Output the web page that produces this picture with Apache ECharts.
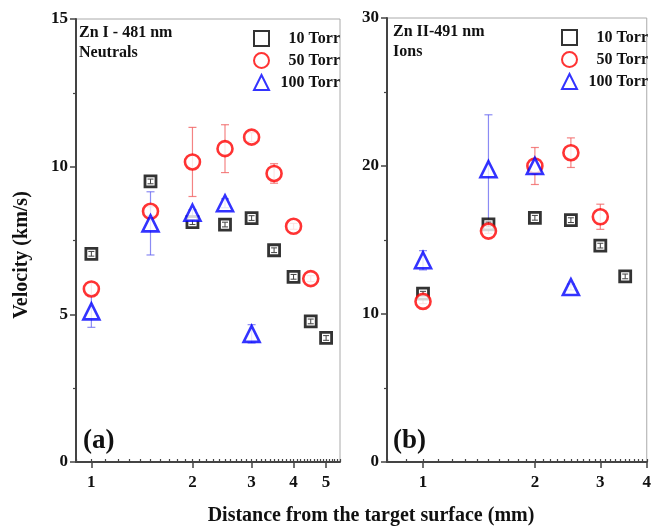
<!DOCTYPE html>
<html>
<head>
<meta charset="utf-8">
<script src="https://cdn.jsdelivr.net/npm/echarts@6/dist/echarts.min.js"></script>
<style>html,body{margin:0;padding:0;background:#fff;}#c{width:654px;height:528px;}</style>
</head>
<body>
<div id="c"></div>
<script>
// ---- Data: panel (a) Zn I - 481 nm, neutrals ----
const distA10 = [1, 1.5, 2, 2.5, 3, 3.5, 4, 4.5, 5];
const velA10  = [7.05, 9.5, 8.12, 8.04, 8.26, 7.17, 6.27, 4.76, 4.2];
const errA10  = [0.08, 0.08, 0.08, 0.08, 0.08, 0.08, 0.08, 0.08, 0.08];
const distA50 = [1, 1.5, 2, 2.5, 3, 3.5, 4, 4.5];
const velA50  = [5.86, 8.49, 10.16, 10.61, 11.0, 9.77, 7.98, 6.21];
const errA50  = [0.2, 0.15, 1.17, 0.81, 0.15, 0.33, 0.1, 0.1];
const distA100 = [1, 1.5, 2, 2.5, 3];
const velA100  = [5.1, 8.08, 8.44, 8.76, 4.34];
const errA100  = [0.54, 1.07, 0.1, 0.15, 0.31];
// ---- Data: panel (b) Zn II-491 nm, ions ----
const distB10 = [1, 1.5, 2, 2.5, 3, 3.5];
const velB10  = [11.37, 16.05, 16.5, 16.34, 14.62, 12.54];
const errB10  = [0.16, 0.16, 0.16, 0.16, 0.16, 0.16];
const distB50 = [1, 1.5, 2, 2.5, 3];
const velB50  = [10.85, 15.6, 20.0, 20.9, 16.57];
const errB50  = [0.15, 0.15, 1.25, 1.0, 0.85];
const distB100 = [1, 1.5, 2, 2.5];
const velB100  = [13.63, 19.78, 20.0, 11.82];
const errB100  = [0.65, 3.68, 0.4, 0.2];
// ---- Ticks ----
const ticksA = [1, 2, 3, 4, 5];
const ticksB = [1, 2, 3, 4];
const yTicksA = [0, 5, 10, 15];
const yTicksB = [0, 10, 20, 30];
const seriesNames = ['10 Torr', '50 Torr', '100 Torr'];

const FONT = 'Liberation Serif';
function minorTicks(lo, hi) {
  const out = [];
  for (let i = Math.round(lo * 10); i <= Math.round(hi * 10); i++) out.push(i / 10);
  return out;
}
function pts(xs, ys) { return xs.map((x, i) => [x, ys[i]]); }
function errs(xs, ys, es) { return xs.map((x, i) => [x, ys[i] - es[i], ys[i] + es[i]]); }
function errRender(color, cap, width) {
  return function (params, api) {
    const x = api.value(0);
    const p1 = api.coord([x, api.value(1)]);
    const p2 = api.coord([x, api.value(2)]);
    const st = { stroke: color, lineWidth: width };
    return { type: 'group', children: [
      { type: 'line', shape: { x1: p1[0], y1: p1[1], x2: p2[0], y2: p2[1] }, style: st },
      { type: 'line', shape: { x1: p1[0] - cap, y1: p1[1], x2: p1[0] + cap, y2: p1[1] }, style: st },
      { type: 'line', shape: { x1: p2[0] - cap, y1: p2[1], x2: p2[0] + cap, y2: p2[1] }, style: st }
    ]};
  };
}
const axisCol = '#444';
function xMajor(grid, min, max, ticks) {
  return {
    type: 'log', logBase: 10, gridIndex: grid, min: min, max: max,
    axisLine: { show: true, onZero: false, lineStyle: { color: axisCol, width: 2 } },
    axisTick: { show: true, customValues: ticks, length: 6, lineStyle: { color: axisCol, width: 1.5 } },
    axisLabel: { customValues: ticks, margin: 12, fontFamily: FONT, fontWeight: 'bold', fontSize: 17, color: '#111' },
    splitLine: { show: false }, minorTick: { show: false }
  };
}
function xMinor(grid, min, max) {
  return {
    type: 'log', logBase: 10, gridIndex: grid, min: min, max: max,
    axisLine: { show: false },
    axisTick: { show: true, customValues: minorTicks(min, max), length: 3, lineStyle: { color: axisCol, width: 1.2 } },
    axisLabel: { show: false }, splitLine: { show: false }
  };
}
function yAxis(grid, max, interval) {
  return {
    type: 'value', gridIndex: grid, min: 0, max: max, interval: interval,
    axisLine: { show: true, lineStyle: { color: axisCol, width: 2 } },
    axisTick: { show: true, length: 6, lineStyle: { color: axisCol, width: 1.5 } },
    minorTick: { show: true, splitNumber: 2, length: 3, lineStyle: { color: axisCol, width: 1.2 } },
    axisLabel: { margin: 8, fontFamily: FONT, fontWeight: 'bold', fontSize: 17, color: '#111' },
    splitLine: { show: false }, minorSplitLine: { show: false }
  };
}
const sqStyle = { color: '#fff', borderColor: '#000', borderWidth: 2.8 };
const ciStyle = { color: '#fff', borderColor: '#f00', borderWidth: 2.6 };
const trStyle = { color: '#fff', borderColor: '#00f', borderWidth: 2.6 };
const redErr = 'rgba(240,90,90,0.75)';
const blueErr = 'rgba(90,90,240,0.7)';

function panelSeries(g, d10, v10, e10, d50, v50, e50, d100, v100, e100) {
  const xi = g * 2, yi = g;
  return [
    { type: 'custom', name: 'err50_' + g, xAxisIndex: xi, yAxisIndex: yi, renderItem: errRender(redErr, 4, 1.2), data: errs(d50, v50, e50), z: 1, silent: true },
    { type: 'custom', name: 'err100_' + g, xAxisIndex: xi, yAxisIndex: yi, renderItem: errRender(blueErr, 4, 1.2), data: errs(d100, v100, e100), z: 1, silent: true },
    { type: 'scatter', name: seriesNames[0], xAxisIndex: xi, yAxisIndex: yi, symbol: 'rect', symbolSize: 11, itemStyle: sqStyle, data: pts(d10, v10), z: 2 },
    { type: 'custom', name: 'err10_' + g, xAxisIndex: xi, yAxisIndex: yi, renderItem: errRender('#444', 3, 1), data: errs(d10, v10, e10), z: 3, silent: true },
    { type: 'scatter', name: seriesNames[1], xAxisIndex: xi, yAxisIndex: yi, symbol: 'circle', symbolSize: 15, itemStyle: ciStyle, data: pts(d50, v50), z: 4 },
    { type: 'scatter', name: seriesNames[2], xAxisIndex: xi, yAxisIndex: yi, symbol: 'triangle', symbolSize: 16, itemStyle: trStyle, data: pts(d100, v100), z: 5 }
  ];
}
function legend(left, top) {
  return {
    data: seriesNames, orient: 'vertical', left: left, top: top,
    itemWidth: 15, itemHeight: 15, itemGap: 5, selectedMode: false,
    formatter: function (n) { return '{t|' + n + '}'; },
    textStyle: { fontFamily: FONT, fontWeight: 'bold', fontSize: 16, color: '#111',
      rich: { t: { width: 66, align: 'right', fontFamily: FONT, fontWeight: 'bold', fontSize: 16, color: '#111' } } }
  };
}
const txt = (x, y, s, size) => ({ type: 'text', x: x, y: y,
  style: { text: s, fontFamily: FONT, fontWeight: 'bold', fontSize: size, fill: '#111' } });

const chart = echarts.init(document.getElementById('c'), null, { renderer: 'canvas' });
chart.setOption({
  animation: false,
  backgroundColor: '#fff',
  grid: [
    { left: 76, top: 19, width: 264, height: 443, show: true, borderColor: '#aaa', borderWidth: 1, backgroundColor: 'transparent' },
    { left: 387, top: 18, width: 265, height: 444, show: true, borderColor: '#aaa', borderWidth: 1, backgroundColor: 'transparent' }
  ],
  xAxis: [xMajor(0, 0.9, 5.5, ticksA), xMinor(0, 0.9, 5.5), xMajor(1, 0.8, 4, ticksB), xMinor(1, 0.8, 4)],
  yAxis: [yAxis(0, yTicksA[yTicksA.length - 1], yTicksA[1] - yTicksA[0]), yAxis(1, yTicksB[yTicksB.length - 1], yTicksB[1] - yTicksB[0])],
  legend: [legend(248, 25), legend(556, 24)],
  series: [].concat(
    panelSeries(0, distA10, velA10, errA10, distA50, velA50, errA50, distA100, velA100, errA100),
    panelSeries(1, distB10, velB10, errB10, distB50, velB50, errB50, distB100, velB100, errB100)
  ),
  graphic: [
    txt(79, 25, 'Zn I - 481 nm', 16),
    txt(79, 45, 'Neutrals', 16),
    txt(83, 428, '(a)', 27),
    txt(393, 24, 'Zn II-491 nm', 16),
    txt(393, 44, 'Ions', 16),
    txt(393, 428, '(b)', 27),
    { type: 'text', x: 22, y: 255, rotation: Math.PI / 2,
      style: { text: 'Velocity (km/s)', fontFamily: FONT, fontWeight: 'bold', fontSize: 20, fill: '#111', align: 'center', verticalAlign: 'middle' } },
    { type: 'text', x: 371, y: 516,
      style: { text: 'Distance from the target surface (mm)', fontFamily: FONT, fontWeight: 'bold', fontSize: 20, fill: '#111', align: 'center', verticalAlign: 'middle' } }
  ]
});
</script>
</body>
</html>
